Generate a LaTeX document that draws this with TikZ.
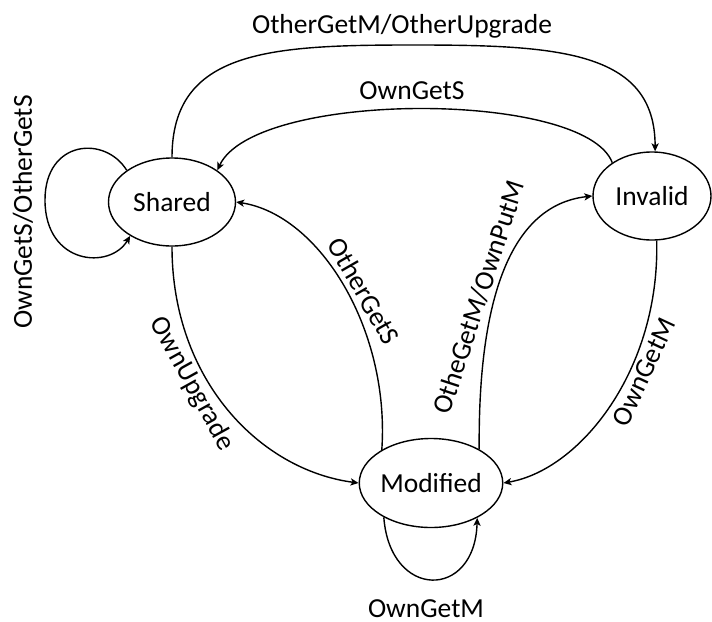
\documentclass[tikz,border=0pt]{standalone}
\usepackage{fontspec}
\setmainfont{Carlito}
\usetikzlibrary{shapes.geometric,arrows.meta}
\begin{document}
\begin{tikzpicture}[x=0.5pt,y=-0.5pt,
  state/.style={ellipse,draw,line width=0.7pt,inner sep=0pt,
    minimum width=63.5pt,minimum height=44pt},
  trans/.style={line width=0.7pt,-{Stealth[length=4pt,width=3.6pt,inset=1pt]}},
  lbl/.style={inner sep=0pt},
  every node/.style={font=\fontsize{13.75}{16}\selectfont}]
\useasboundingbox (0,0) rectangle (712,621);

% states
\node[state] (S) at (172,202) {Shared};
\node[state,minimum width=59pt] (I) at (652,196) {Invalid};
\node[state,minimum height=44.5pt] (M) at (431,483) {Modified};

% self loop on Shared
\draw[trans] (S.145) .. controls (105,135) and (45,140) .. (45,200)
  .. controls (45,265) and (110,270) .. (S.219);
% Shared -> Invalid (outer arc)
\draw[trans] (S.north) .. controls (172,50) and (270,45) .. (413,45)
  .. controls (556,45) and (655,50) .. (I.86);
% Invalid -> Shared (inner arc)
\draw[trans] (I.140) .. controls (585,90) and (255,90) .. (S.35);
% Modified -> Shared
\draw[trans] (M.146) .. controls (390,330) and (320,215) .. (S.east);
% Shared -> Modified
\draw[trans] (S.south) .. controls (172,380) and (260,470) .. (M.west);
% Modified -> Invalid
\draw[trans] (M.35) .. controls (478,300) and (510,205) .. (I.west);
% Invalid -> Modified
\draw[trans] (I.-84) .. controls (660,370) and (580,470) .. (M.east);
% self loop on Modified
\draw[trans] (M.216) .. controls (390,600) and (475,600) .. (M.323);

% transition labels
\node[lbl,anchor=base] (l1) at (402,33) {OtherGetM/OtherUpgrade};
\node[lbl,anchor=base] (l2) at (412,99) {OwnGetS};
\node[lbl,rotate=90] (l3) at (23,212) {OwnGetS/OtherGetS};
\node[lbl,rotate=-60] (l4) at (364,291) {OtherGetS};
\node[lbl,rotate=-61] (l5) at (192,384) {OwnUpgrade};
\node[lbl,rotate=72] (l6) at (479,297) {OtheGetM/OwnPutM};
\node[lbl,rotate=65] (l7) at (644,372) {OwnGetM};
\node[lbl,anchor=base] (l8) at (426,617) {OwnGetM};
\end{tikzpicture}
\end{document}
